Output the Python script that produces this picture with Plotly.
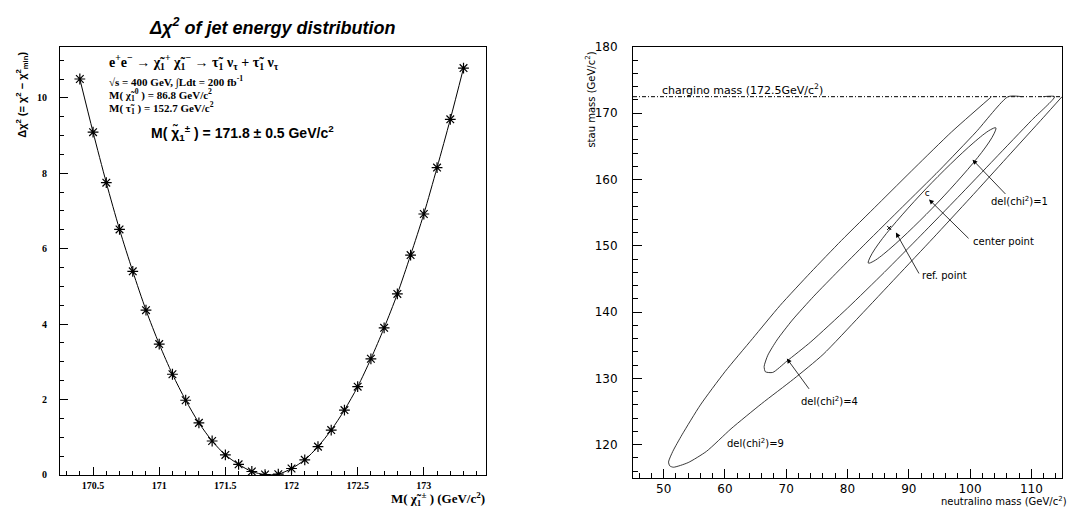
import plotly.graph_objects as go

W, H = 1078, 516

# ---------------- Left panel data ----------------
chargino_mass = [170.4, 170.5, 170.6, 170.7, 170.8, 170.9, 171.0, 171.1, 171.2, 171.3,
                 171.4, 171.5, 171.6, 171.7, 171.8, 171.9, 172.0, 172.1, 172.2, 172.3,
                 172.4, 172.5, 172.6, 172.7, 172.8, 172.9, 173.0, 173.1, 173.2, 173.3]
delta_chi2 = [10.50, 9.09, 7.75, 6.51, 5.40, 4.37, 3.47, 2.67, 1.98, 1.38,
              0.90, 0.53, 0.28, 0.09, 0.01, 0.02, 0.17, 0.40, 0.75, 1.19,
              1.72, 2.34, 3.08, 3.90, 4.80, 5.83, 6.92, 8.15, 9.43, 10.79]

# ---------------- Right panel data ----------------
chargino_limit = 172.5
neutralino_range = [45, 115]

dchi9_x = [103.5, 97.0, 91.0, 85.0, 79.0, 74.0, 69.0, 64.5, 60.0, 56.0, 53.0, 51.5, 50.8, 51.0,
           51.6, 54.0, 57.0, 61.0, 66.0, 71.2, 76.0, 82.0, 88.0, 94.0, 100.0, 106.0, 112.0, 115.0]
dchi9_y = [172.5, 167.2, 161.8, 156.3, 150.8, 146.0, 141.0, 136.0, 131.0, 126.0, 121.5, 119.0, 117.4, 116.8,
           116.6, 117.3, 119.0, 122.4, 126.2, 129.9, 133.6, 139.4, 145.3, 151.2, 157.2, 163.3, 169.4, 172.5]

dchi4_x = [108.5, 106.2, 101.0, 95.0, 89.0, 83.0, 78.5, 74.5, 71.0, 68.5, 67.0, 66.4, 66.6, 67.8,
           70.1, 74.0, 80.0, 86.0, 92.0, 98.0, 104.0, 110.0, 113.8, 111.9]
dchi4_y = [172.5, 172.5, 167.2, 161.4, 155.9, 150.4, 146.2, 142.4, 138.8, 135.8, 133.5, 131.8, 131.0, 130.9,
           132.6, 135.5, 140.6, 146.0, 151.6, 157.3, 163.1, 168.9, 172.5, 172.5]

dchi1_x = [104.2, 103.3, 100.5, 92.8, 85.7, 83.7, 83.4, 84.3, 87.1, 94.8, 101.9, 103.9, 104.2]
dchi1_y = [167.8, 167.5, 165.5, 158.6, 151.1, 148.3, 147.4, 147.7, 149.7, 156.6, 164.1, 166.9, 167.8]

ref_point = (86.8, 152.7)
center_point = (93.0, 157.9)

fig = go.Figure()

# left: fit curve + points
fig.add_trace(go.Scatter(x=chargino_mass, y=delta_chi2, mode="lines+markers",
                         line=dict(color="black", width=1, shape="spline", smoothing=0.8),
                         marker=dict(symbol="asterisk-open", size=9, color="black",
                                     line=dict(color="black", width=1.2)),
                         xaxis="x", yaxis="y", showlegend=False))

# right: chargino mass line
fig.add_trace(go.Scatter(x=neutralino_range, y=[chargino_limit, chargino_limit], mode="lines",
                         line=dict(color="black", width=1, dash="4px,2px,1px,2px"),
                         xaxis="x2", yaxis="y2", showlegend=False))

# contours
for cx, cy, sm in ((dchi9_x, dchi9_y, 0.6), (dchi4_x, dchi4_y, 0.6), (dchi1_x, dchi1_y, 1.0)):
    fig.add_trace(go.Scatter(x=cx, y=cy, mode="lines",
                             line=dict(color="#222", width=0.9, shape="spline", smoothing=sm),
                             xaxis="x2", yaxis="y2", showlegend=False))

# ref point / center point marks
fig.add_trace(go.Scatter(x=[ref_point[0]], y=[ref_point[1]], mode="markers",
                         marker=dict(symbol="x-thin-open", size=4, color="black",
                                     line=dict(color="black", width=1)),
                         xaxis="x2", yaxis="y2", showlegend=False))
fig.add_trace(go.Scatter(x=[center_point[0]], y=[center_point[1]], mode="text", text=["c"],
                         textfont=dict(family="DejaVu Sans", size=9, color="black"),
                         xaxis="x2", yaxis="y2", showlegend=False))

serif = "Liberation Serif"
sans = "Liberation Sans"
thin = "DejaVu Sans"

axis_common = dict(showline=True, mirror=True, linecolor="black", linewidth=1,
                   showgrid=False, zeroline=False, ticks="inside", tickcolor="black")

fig.update_layout(
    width=W, height=H, autosize=False,
    margin=dict(l=0, r=0, t=0, b=0),
    paper_bgcolor="white", plot_bgcolor="white",
    xaxis=dict(domain=[60 / W, 486 / W], anchor="y", range=[170.25, 173.47],
               dtick=0.5, tick0=170, ticklen=8, tickwidth=1,
               minor=dict(dtick=0.1, ticklen=4, ticks="inside", tickcolor="black"),
               tickfont=dict(family=serif, size=10, color="black", weight="bold"),
               ticklabelstandoff=1, **axis_common),
    yaxis=dict(domain=[1 - 480 / H, 1 - 41 / H], anchor="x", range=[0, 11.35],
               dtick=2, tick0=0, ticklen=8, tickwidth=1,
               minor=dict(dtick=0.5, ticklen=4, ticks="inside", tickcolor="black"),
               tickfont=dict(family=serif, size=10, color="black", weight="bold"),
               ticklabelstandoff=10, **axis_common),
    xaxis2=dict(domain=[633 / W, 1062 / W], anchor="y2", range=neutralino_range,
                dtick=10, tick0=0, ticklen=9, tickwidth=1,
                minor=dict(dtick=2, ticklen=5, ticks="inside", tickcolor="black"),
                tickfont=dict(family=thin, size=12, color="black"),
                ticklabelstandoff=0, **axis_common),
    yaxis2=dict(domain=[1 - 483 / H, 1 - 41 / H], anchor="x2", range=[115, 180],
                dtick=10, tick0=0, ticklen=9, tickwidth=1,
                minor=dict(dtick=2, ticklen=5, ticks="inside", tickcolor="black"),
                tickfont=dict(family=thin, size=12, color="black"),
                ticklabelstandoff=12, **axis_common),
)

ann = []
def paper_text(text, px, py, size, family, xanchor="left", angle=0, yanchor="middle"):
    ann.append(dict(text=text, x=px / W, y=1 - py / H, xref="paper", yref="paper",
                    xanchor=xanchor, yanchor=yanchor, showarrow=False, textangle=angle,
                    borderpad=0, font=dict(family=family, size=size, color="black")))

# left panel texts
paper_text("<b><i>Δχ<sup>2</sup> of jet energy distribution</i></b>", 272, 20, 18, sans, xanchor="center")
paper_text("<b>Δχ<sup>2</sup> (= χ<sup>2</sup> − χ<sup>2</sup><sub>min</sub>)</b>", 22, 90, 11, sans,
           xanchor="center", angle=-90)
paper_text("<b>M( χ̃<sub>1</sub><sup>±</sup> ) (GeV/c<sup>2</sup>)</b>", 486, 505, 13, serif, xanchor="right")
paper_text("<b>e<sup>+</sup>e<sup>−</sup> → χ̃<sub>1</sub><sup>+</sup> χ̃<sub>1</sub><sup>−</sup> → "
           "τ̃<sub>1</sub> ν<sub>τ</sub> + τ̃<sub>1</sub> ν<sub>τ</sub></b>", 108, 56, 14, serif)
paper_text("<b>√s = 400 GeV, ∫Ldt = 200 fb<sup>-1</sup></b>", 108, 76, 11, serif)
paper_text("<b>M( χ̃<sub>1</sub><sup>0</sup> ) = 86.8 GeV/c<sup>2</sup></b>", 108, 90, 11, serif)
paper_text("<b>M( τ̃<sub>1</sub> ) = 152.7 GeV/c<sup>2</sup></b>", 108, 104, 11, serif)
paper_text("<b>M( χ̃<sub>1</sub><sup>±</sup> ) = 171.8 ± 0.5 GeV/c<sup>2</sup></b>", 150, 129, 14, sans)

# right panel axis titles
paper_text("stau mass (GeV/c<sup>2</sup>)", 590, 95, 10, thin, xanchor="center", angle=-90)
paper_text("neutralino mass (GeV/c<sup>2</sup>)", 1068, 507, 10, thin, xanchor="right")

def data_text(text, x, y, size=10):
    ann.append(dict(text=text, x=x, y=y, xref="x2", yref="y2", xanchor="left", yanchor="middle",
                    showarrow=False, borderpad=0, font=dict(family=thin, size=size, color="black")))

def data_arrow(x_head, y_head, x_tail, y_tail):
    ann.append(dict(text="", x=x_head, y=y_head, ax=x_tail, ay=y_tail, xref="x2", yref="y2",
                    axref="x2", ayref="y2", showarrow=True, arrowhead=2, arrowsize=1.2,
                    arrowwidth=0.8, arrowcolor="black"))

data_text("chargino mass (172.5GeV/c<sup>2</sup>)", 49.5, 173.6, 11)
data_text("del(chi<sup>2</sup>)=1", 103.3, 156.7, 10)
data_text("center point", 100.3, 150.6, 10)
data_text("ref. point", 92.0, 145.5, 10)
data_text("del(chi<sup>2</sup>)=4", 72.2, 126.6, 10)
data_text("del(chi<sup>2</sup>)=9", 60.1, 120.2, 10)

data_arrow(100.4, 163.0, 106.0, 157.6)
data_arrow(93.3, 157.0, 100.0, 150.9)
data_arrow(87.9, 152.0, 91.8, 145.6)
data_arrow(70.1, 133.0, 73.9, 128.2)

fig.update_layout(annotations=ann)

fig.write_html("out.html",
               config={"displayModeBar": False, "staticPlot": True},
               post_script="document.body.style.margin='0px';document.body.style.overflow='hidden';")
